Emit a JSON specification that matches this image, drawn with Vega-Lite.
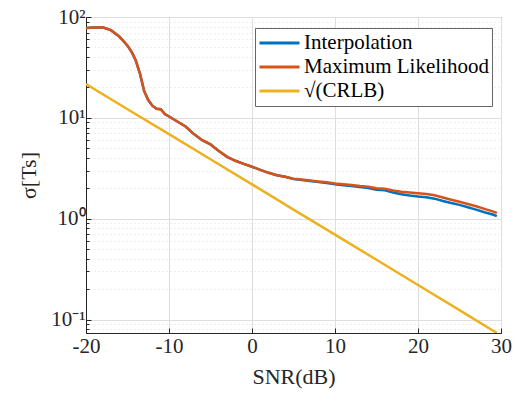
{
  "$schema": "https://vega.github.io/schema/vega-lite/v6.json",
  "autosize": "none",
  "width": 415,
  "height": 316,
  "padding": {"left": 86, "top": 17, "right": 15, "bottom": 70},
  "background": "white",
  "config": {
    "font": "Liberation Serif, Times New Roman, serif",
    "axis": {"labelFont": "Liberation Serif, Times New Roman, serif", "titleFont": "Liberation Serif, Times New Roman, serif"},
    "legend": {"labelFont": "Liberation Serif, Times New Roman, serif", "titleFont": "Liberation Serif, Times New Roman, serif"},
    "view": {"stroke": "#262626", "strokeWidth": 1}
  },
  "datasets": {
    "curves": [
      {"s": "Interpolation", "x": -20, "v": 78}, {"s": "Interpolation", "x": -19, "v": 78.5}, {"s": "Interpolation", "x": -18, "v": 79}, {"s": "Interpolation", "x": -17, "v": 74}, {"s": "Interpolation", "x": -16, "v": 64}, {"s": "Interpolation", "x": -15.5, "v": 58}, {"s": "Interpolation", "x": -15, "v": 52}, {"s": "Interpolation", "x": -14.5, "v": 45}, {"s": "Interpolation", "x": -14, "v": 37}, {"s": "Interpolation", "x": -13.5, "v": 27.5}, {"s": "Interpolation", "x": -13, "v": 18.5}, {"s": "Interpolation", "x": -12.5, "v": 15}, {"s": "Interpolation", "x": -12, "v": 13.2}, {"s": "Interpolation", "x": -11.5, "v": 12.3}, {"s": "Interpolation", "x": -11, "v": 12.2}, {"s": "Interpolation", "x": -10.5, "v": 10.9}, {"s": "Interpolation", "x": -10, "v": 10.3}, {"s": "Interpolation", "x": -9, "v": 9.2}, {"s": "Interpolation", "x": -8, "v": 8.2}, {"s": "Interpolation", "x": -7, "v": 6.9}, {"s": "Interpolation", "x": -6, "v": 6.0}, {"s": "Interpolation", "x": -5, "v": 5.45}, {"s": "Interpolation", "x": -4, "v": 4.7}, {"s": "Interpolation", "x": -3, "v": 4.1}, {"s": "Interpolation", "x": -2, "v": 3.75}, {"s": "Interpolation", "x": -1, "v": 3.5}, {"s": "Interpolation", "x": 0, "v": 3.27}, {"s": "Interpolation", "x": 1, "v": 3.05}, {"s": "Interpolation", "x": 2, "v": 2.85}, {"s": "Interpolation", "x": 3, "v": 2.7}, {"s": "Interpolation", "x": 4, "v": 2.6}, {"s": "Interpolation", "x": 5, "v": 2.47}, {"s": "Interpolation", "x": 6, "v": 2.42}, {"s": "Interpolation", "x": 7, "v": 2.36}, {"s": "Interpolation", "x": 8, "v": 2.31}, {"s": "Interpolation", "x": 9, "v": 2.26}, {"s": "Interpolation", "x": 10, "v": 2.19}, {"s": "Interpolation", "x": 11, "v": 2.15}, {"s": "Interpolation", "x": 12, "v": 2.11}, {"s": "Interpolation", "x": 13, "v": 2.06}, {"s": "Interpolation", "x": 14, "v": 2.01}, {"s": "Interpolation", "x": 15, "v": 1.94}, {"s": "Interpolation", "x": 16, "v": 1.91}, {"s": "Interpolation", "x": 17, "v": 1.82}, {"s": "Interpolation", "x": 18, "v": 1.75}, {"s": "Interpolation", "x": 19, "v": 1.7}, {"s": "Interpolation", "x": 20, "v": 1.66}, {"s": "Interpolation", "x": 21, "v": 1.63}, {"s": "Interpolation", "x": 22, "v": 1.58}, {"s": "Interpolation", "x": 23, "v": 1.5}, {"s": "Interpolation", "x": 24, "v": 1.43}, {"s": "Interpolation", "x": 25, "v": 1.37}, {"s": "Interpolation", "x": 26, "v": 1.3}, {"s": "Interpolation", "x": 27, "v": 1.23}, {"s": "Interpolation", "x": 28, "v": 1.16}, {"s": "Interpolation", "x": 29, "v": 1.1}, {"s": "Interpolation", "x": 29.5, "v": 1.06},
      {"s": "Maximum Likelihood", "x": -20, "v": 78}, {"s": "Maximum Likelihood", "x": -19, "v": 78.5}, {"s": "Maximum Likelihood", "x": -18, "v": 79}, {"s": "Maximum Likelihood", "x": -17, "v": 74}, {"s": "Maximum Likelihood", "x": -16, "v": 64}, {"s": "Maximum Likelihood", "x": -15.5, "v": 58}, {"s": "Maximum Likelihood", "x": -15, "v": 52}, {"s": "Maximum Likelihood", "x": -14.5, "v": 45}, {"s": "Maximum Likelihood", "x": -14, "v": 37}, {"s": "Maximum Likelihood", "x": -13.5, "v": 27.5}, {"s": "Maximum Likelihood", "x": -13, "v": 18.5}, {"s": "Maximum Likelihood", "x": -12.5, "v": 15}, {"s": "Maximum Likelihood", "x": -12, "v": 13.2}, {"s": "Maximum Likelihood", "x": -11.5, "v": 12.3}, {"s": "Maximum Likelihood", "x": -11, "v": 12.2}, {"s": "Maximum Likelihood", "x": -10.5, "v": 10.9}, {"s": "Maximum Likelihood", "x": -10, "v": 10.3}, {"s": "Maximum Likelihood", "x": -9, "v": 9.2}, {"s": "Maximum Likelihood", "x": -8, "v": 8.2}, {"s": "Maximum Likelihood", "x": -7, "v": 6.9}, {"s": "Maximum Likelihood", "x": -6, "v": 6.0}, {"s": "Maximum Likelihood", "x": -5, "v": 5.45}, {"s": "Maximum Likelihood", "x": -4, "v": 4.7}, {"s": "Maximum Likelihood", "x": -3, "v": 4.1}, {"s": "Maximum Likelihood", "x": -2, "v": 3.75}, {"s": "Maximum Likelihood", "x": -1, "v": 3.5}, {"s": "Maximum Likelihood", "x": 0, "v": 3.27}, {"s": "Maximum Likelihood", "x": 1, "v": 3.05}, {"s": "Maximum Likelihood", "x": 2, "v": 2.85}, {"s": "Maximum Likelihood", "x": 3, "v": 2.7}, {"s": "Maximum Likelihood", "x": 4, "v": 2.6}, {"s": "Maximum Likelihood", "x": 5, "v": 2.49}, {"s": "Maximum Likelihood", "x": 6, "v": 2.44}, {"s": "Maximum Likelihood", "x": 7, "v": 2.39}, {"s": "Maximum Likelihood", "x": 8, "v": 2.34}, {"s": "Maximum Likelihood", "x": 9, "v": 2.3}, {"s": "Maximum Likelihood", "x": 10, "v": 2.23}, {"s": "Maximum Likelihood", "x": 11, "v": 2.2}, {"s": "Maximum Likelihood", "x": 12, "v": 2.16}, {"s": "Maximum Likelihood", "x": 13, "v": 2.11}, {"s": "Maximum Likelihood", "x": 14, "v": 2.07}, {"s": "Maximum Likelihood", "x": 15, "v": 2.0}, {"s": "Maximum Likelihood", "x": 16, "v": 1.98}, {"s": "Maximum Likelihood", "x": 17, "v": 1.9}, {"s": "Maximum Likelihood", "x": 18, "v": 1.85}, {"s": "Maximum Likelihood", "x": 19, "v": 1.82}, {"s": "Maximum Likelihood", "x": 20, "v": 1.79}, {"s": "Maximum Likelihood", "x": 21, "v": 1.76}, {"s": "Maximum Likelihood", "x": 22, "v": 1.71}, {"s": "Maximum Likelihood", "x": 23, "v": 1.62}, {"s": "Maximum Likelihood", "x": 24, "v": 1.54}, {"s": "Maximum Likelihood", "x": 25, "v": 1.47}, {"s": "Maximum Likelihood", "x": 26, "v": 1.4}, {"s": "Maximum Likelihood", "x": 27, "v": 1.33}, {"s": "Maximum Likelihood", "x": 28, "v": 1.25}, {"s": "Maximum Likelihood", "x": 29, "v": 1.18}, {"s": "Maximum Likelihood", "x": 29.5, "v": 1.14},
      {"s": "√(CRLB)", "x": -20, "v": 21.6}, {"s": "√(CRLB)", "x": -15, "v": 12.16}, {"s": "√(CRLB)", "x": -10, "v": 6.89}, {"s": "√(CRLB)", "x": -5, "v": 3.88}, {"s": "√(CRLB)", "x": 0, "v": 2.19}, {"s": "√(CRLB)", "x": 5, "v": 1.23}, {"s": "√(CRLB)", "x": 10, "v": 0.694}, {"s": "√(CRLB)", "x": 15, "v": 0.391}, {"s": "√(CRLB)", "x": 20, "v": 0.22}, {"s": "√(CRLB)", "x": 25, "v": 0.124}, {"s": "√(CRLB)", "x": 29.5, "v": 0.0735}
    ]
  },
  "data": {"name": "curves"},
  "encoding": {
    "x": {
      "field": "x", "type": "quantitative",
      "scale": {"domain": [-20, 30], "nice": false, "zero": false},
      "axis": {
        "values": [-20, -10, 0, 10, 20, 30],
        "labelExpr": "'' + datum.value",
        "title": "SNR(dB)", "titleFontSize": 22, "titleFontWeight": "normal", "titleColor": "#262626", "titlePadding": 10,
        "labelFontSize": 21, "labelColor": "#262626", "labelPadding": 7, "labelFlush": false,
        "domainColor": "#262626", "tickColor": "#262626", "tickSize": -5,
        "grid": true, "gridColor": "#dedede", "gridWidth": 1
      }
    },
    "y": {
      "field": "v", "type": "quantitative",
      "scale": {"type": "log", "domain": [0.0735, 100], "nice": false},
      "axis": {
        "values": [0.08, 0.09, 0.1, 0.2, 0.3, 0.4, 0.5, 0.6, 0.7, 0.8, 0.9, 1, 2, 3, 4, 5, 6, 7, 8, 9, 10, 20, 30, 40, 50, 60, 70, 80, 90, 100],
        "labelExpr": "datum.value == 100 ? '10²' : datum.value == 10 ? '10¹' : datum.value == 1 ? '10⁰' : datum.value == 0.1 ? '10⁻¹' : ''",
        "title": "σ[Ts]", "titleFontSize": 22, "titleFontWeight": "normal", "titleColor": "#262626", "titlePadding": 10,
        "labelFontSize": 21, "labelColor": "#262626", "labelPadding": 6,
        "domainColor": "#262626", "tickColor": "#262626",
        "tickSize": {"condition": {"test": "datum.value == 100 || datum.value == 10 || datum.value == 1 || datum.value == 0.1", "value": -5}, "value": -3},
        "grid": true, "gridColor": "#dedede", "gridWidth": 1,
        "gridDash": {"condition": {"test": "datum.value == 100 || datum.value == 10 || datum.value == 1 || datum.value == 0.1", "value": []}, "value": [1, 3]}
      }
    },
    "color": {
      "field": "s", "type": "nominal",
      "scale": {"domain": ["Interpolation", "Maximum Likelihood", "√(CRLB)"], "range": ["#0072BD", "#D95319", "#EDB120"]},
      "legend": {
        "title": null, "orient": "none", "legendX": 169, "legendY": 11,
        "symbolType": "stroke", "symbolSize": 1600, "symbolStrokeWidth": 3,
        "labelFontSize": 21, "labelColor": "#000000", "labelOffset": 3, "labelLimit": 300,
        "clipHeight": 24, "rowPadding": 0, "padding": 3,
        "strokeColor": "#666666", "fillColor": "white"
      }
    }
  },
  "layer": [
    {"transform": [{"filter": "datum.s == 'Interpolation'"}], "mark": {"type": "line", "strokeWidth": 2.5, "clip": true}},
    {"transform": [{"filter": "datum.s == 'Maximum Likelihood'"}], "mark": {"type": "line", "strokeWidth": 2.5, "clip": true}},
    {"transform": [{"filter": "datum.s == '√(CRLB)'"}], "mark": {"type": "line", "strokeWidth": 2.5, "clip": true}}
  ]
}
